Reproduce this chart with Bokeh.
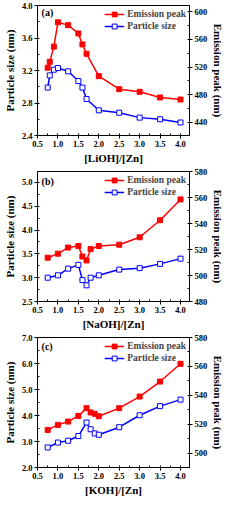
from bokeh.plotting import figure
from bokeh.models import (Range1d, LinearAxis, SingleIntervalTicker, Legend, LegendItem, Label,
                          PrintfTickFormatter)
from bokeh.layouts import column
from bokeh.embed import file_html
from bokeh.resources import INLINE

# ---- data ----
ratio_a = [0.75, 0.8, 0.9, 1.0, 1.25, 1.5, 1.6, 1.7, 2.0, 2.5, 3.0, 3.5, 4.0]
emission_a = [519, 527.5, 549.5, 584.7, 580.6, 568.5, 552.7, 539.2, 506.8, 488, 484.2, 476, 473]
size_a = [2.99, 3.14, 3.21, 3.23, 3.19, 3.07, 2.99, 2.85, 2.71, 2.68, 2.62, 2.60, 2.56]

ratio_b = [0.75, 1.0, 1.25, 1.5, 1.6, 1.7, 1.8, 2.0, 2.5, 3.0, 3.5, 4.0]
emission_b = [513.7, 516.8, 521.5, 522.7, 514.6, 511.6, 520.3, 522.7, 523.7, 529.4, 542.5, 558.5]
size_b = [3.0, 3.05, 3.19, 3.27, 2.95, 2.84, 3.0, 3.05, 3.17, 3.2, 3.29, 3.4]

ratio_c = [0.75, 1.0, 1.25, 1.5, 1.7, 1.8, 1.9, 2.0, 2.5, 3.0, 3.5, 4.0]
emission_c = [516, 519.5, 521.8, 525.7, 531.1, 528.1, 527.2, 525.5, 531.1, 539.1, 549.5, 561.8]
size_c = [2.77, 2.96, 3.03, 3.21, 3.73, 3.47, 3.31, 3.26, 3.55, 4.01, 4.36, 4.61]

x_titles = ["[LiOH]/[Zn]", "[NaOH]/[Zn]", "[KOH]/[Zn]"]
panel_tags = ["(a)", "(b)", "(c)"]
left_ranges = [(2.4, 4.0), (2.5, 5.23), (2.0, 7.0)]
left_steps = [0.4, 0.5, 1.0]
right_ranges = [(421, 609), (480, 580), (490, 580)]
right_steps = [40, 20, 20]
tag_y = [3.91, 5.02, 6.65]
x_range_lim = (0.5, 4.22)

FONT = "Liberation Serif"
W, H = 227, 166


def style_axis(ax, step, fmt):
    ax.ticker = SingleIntervalTicker(interval=step, num_minor_ticks=2)
    ax.formatter = PrintfTickFormatter(format=fmt)
    ax.axis_line_color = "black"
    ax.axis_line_width = 1
    ax.major_tick_out = 3
    ax.major_tick_in = 0
    ax.minor_tick_out = 0
    ax.minor_tick_in = 2
    ax.major_tick_line_color = "black"
    ax.minor_tick_line_color = "black"
    ax.major_label_text_font = FONT
    ax.major_label_text_font_style = "bold"
    ax.major_label_text_font_size = "8.5px"
    ax.major_label_text_color = "black"
    ax.major_label_standoff = 2
    ax.axis_label_text_font = FONT
    ax.axis_label_text_font_style = "bold"
    ax.axis_label_text_font_size = "11px"
    ax.axis_label_text_color = "black"
    ax.axis_label_standoff = 2


def make_panel(i, xs, em, sz):
    p = figure(width=W, height=H, output_backend="svg", toolbar_location=None,
               x_range=Range1d(*x_range_lim), y_range=Range1d(*left_ranges[i]),
               min_border_left=30, min_border_right=31, min_border_top=5, min_border_bottom=26)
    p.extra_y_ranges = {"right": Range1d(*right_ranges[i])}
    p.grid.visible = False
    p.outline_line_color = "black"
    p.outline_line_width = 1
    p.background_fill_color = "white"
    p.border_fill_color = "white"

    style_axis(p.xaxis[0], 0.5, "%.1f")
    p.xaxis[0].axis_label = x_titles[i]
    style_axis(p.yaxis[0], left_steps[i], "%.1f")
    p.yaxis[0].axis_label = "Particle size (nm)"
    p.yaxis[0].axis_label_standoff = 3

    rax = LinearAxis(y_range_name="right", axis_label="Emission peak (nm)")
    style_axis(rax, right_steps[i], "%d")
    p.add_layout(rax, "right")

    r1 = p.line(xs, em, y_range_name="right", line_color="#ff0000", line_width=1.5)
    r2 = p.scatter(xs, em, y_range_name="right", marker="square", size=5,
                   fill_color="#ff0000", line_color="#ff0000")
    b1 = p.line(xs, sz, line_color="#0000ff", line_width=1.5)
    b2 = p.scatter(xs, sz, marker="square", size=5, fill_color="white",
                   line_color="#0000ff", line_width=1)

    legend = Legend(items=[LegendItem(label="Emission peak", renderers=[r1, r2]),
                           LegendItem(label="Particle size", renderers=[b1, b2])],
                    location="top_right")
    legend.margin = 2
    legend.padding = 1
    legend.spacing = 0
    legend.glyph_width = 20
    legend.glyph_height = 12
    legend.label_height = 12
    legend.label_standoff = 3
    legend.label_text_font = FONT
    legend.label_text_font_style = "bold"
    legend.label_text_font_size = "9.5px"
    legend.background_fill_alpha = 0
    legend.border_line_alpha = 0
    p.add_layout(legend)

    p.add_layout(Label(x=0.6, y=tag_y[i], text=panel_tags[i], text_font=FONT,
                       text_font_style="bold", text_font_size="10px",
                       text_baseline="middle", text_color="black"))
    return p


panels = [make_panel(0, ratio_a, emission_a, size_a),
          make_panel(1, ratio_b, emission_b, size_b),
          make_panel(2, ratio_c, emission_c, size_c)]

layout = column(*panels, spacing=0)
open("out.html", "w").write(file_html(layout, INLINE))
